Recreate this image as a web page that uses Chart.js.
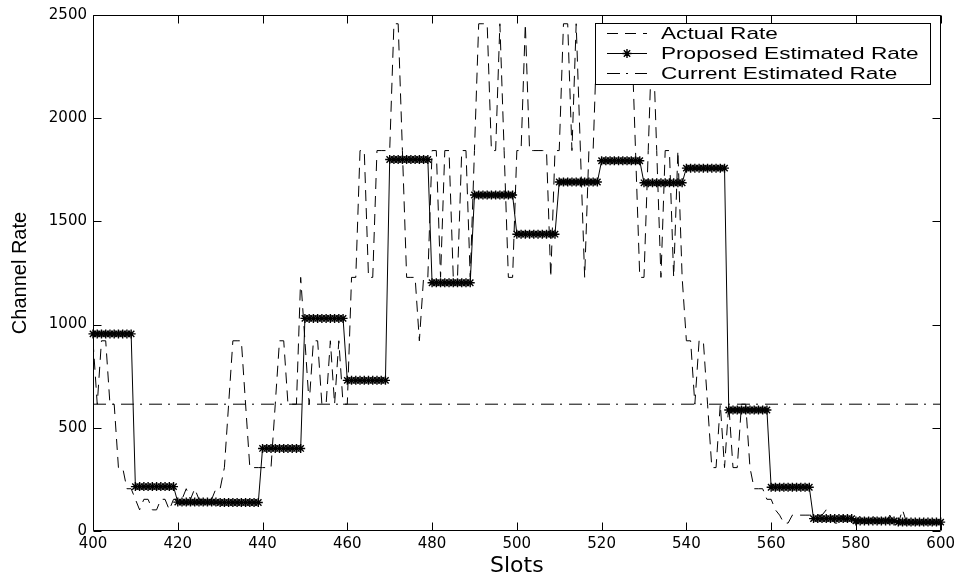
<!DOCTYPE html>
<html lang="en">
<head>
<meta charset="UTF-8">
<title>Channel Rate vs Slots</title>
<script src="https://cdn.jsdelivr.net/npm/chart.js"></script>
<style>
  html, body { margin: 0; padding: 0; background: #fff; }
  #wrap { width: 959px; height: 576px; }
</style>
</head>
<body>
<div id="wrap"><canvas id="rateChart" width="959" height="576"></canvas></div>
<script>
// Slot numbers run from firstSlot, one value per slot
const firstSlot = 400;
const xTickValues = [400, 420, 440, 460, 480, 500, 520, 540, 560, 580, 600];
const yTickValues = [0, 500, 1000, 1500, 2000, 2500];

// Actual channel rate per slot (400..600)
const actualRate = [
  921.6, 614.4, 921.6, 921.6, 614.4, 614.4, 307.2, 307.2, 204.8, 204.8,      // 400
  153.6, 102.4, 153.6, 153.6, 102.4, 102.4, 153.6, 153.6, 102.4, 153.6,      // 410
  153.6, 153.6, 204.8, 153.6, 204.8, 153.6, 153.6, 153.6, 153.6, 204.8,      // 420
  204.8, 307.2, 614.4, 921.6, 921.6, 921.6, 614.4, 307.2, 307.2, 307.2,      // 430
  307.2, 307.2, 307.2, 614.4, 921.6, 921.6, 614.4, 614.4, 614.4, 1228.8,     // 440
  921.6, 614.4, 921.6, 921.6, 614.4, 614.4, 921.6, 614.4, 921.6, 614.4,      // 450
  614.4, 1228.8, 1228.8, 1843.2, 1843.2, 1228.8, 1228.8, 1843.2, 1843.2, 1843.2, // 460
  1843.2, 2457.6, 2457.6, 1843.2, 1228.8, 1228.8, 1228.8, 921.6, 1228.8, 1228.8, // 470
  1843.2, 1843.2, 1228.8, 1843.2, 1843.2, 1228.8, 1228.8, 1843.2, 1843.2, 1228.8, // 480
  1843.2, 2457.6, 2457.6, 2457.6, 1843.2, 1843.2, 2457.6, 1843.2, 1228.8, 1228.8, // 490
  1843.2, 1843.2, 2457.6, 1843.2, 1843.2, 1843.2, 1843.2, 1843.2, 1228.8, 1843.2, // 500
  1843.2, 2457.6, 2457.6, 1843.2, 2457.6, 1843.2, 1228.8, 1843.2, 1843.2, 2457.6, // 510
  2457.6, 2457.6, 2457.6, 2457.6, 2457.6, 2457.6, 2457.6, 2457.6, 1843.2, 1228.8, // 520
  1228.8, 1843.2, 2457.6, 1843.2, 1228.8, 1843.2, 1843.2, 1228.8, 1843.2, 1228.8, // 530
  921.6, 921.6, 614.4, 921.6, 921.6, 614.4, 307.2, 307.2, 614.4, 307.2,      // 540
  614.4, 307.2, 307.2, 614.4, 614.4, 307.2, 204.8, 204.8, 204.8, 153.6,      // 550
  153.6, 102.4, 76.8, 38.4, 38.4, 76.8, 76.8, 76.8, 76.8, 76.8,              // 560
  76.8, 76.8, 76.8, 102.4, 76.8, 38.4, 38.4, 76.8, 38.4, 38.4,               // 570
  38.4, 76.8, 38.4, 38.4, 76.8, 38.4, 38.4, 38.4, 76.8, 38.4,                // 580
  38.4, 102.4, 38.4, 38.4, 38.4, 38.4, 38.4, 38.4, 38.4, 38.4,               // 590
  38.4                                                                      // 600
];

// Proposed estimated rate per slot (held for 10 slots at a time)
const proposedRate = [
  955, 955, 955, 955, 955, 955, 955, 955, 955, 955,
  215, 215, 215, 215, 215, 215, 215, 215, 215, 215,
  140, 140, 140, 140, 140, 140, 140, 140, 140, 140,
  138, 138, 138, 138, 138, 138, 138, 138, 138, 138,
  400, 400, 400, 400, 400, 400, 400, 400, 400, 400,
  1030, 1030, 1030, 1030, 1030, 1030, 1030, 1030, 1030, 1030,
  730, 730, 730, 730, 730, 730, 730, 730, 730, 730,
  1800, 1800, 1800, 1800, 1800, 1800, 1800, 1800, 1800, 1800,
  1203, 1203, 1203, 1203, 1203, 1203, 1203, 1203, 1203, 1203,
  1628, 1628, 1628, 1628, 1628, 1628, 1628, 1628, 1628, 1628,
  1438, 1438, 1438, 1438, 1438, 1438, 1438, 1438, 1438, 1438,
  1691, 1691, 1691, 1691, 1691, 1691, 1691, 1691, 1691, 1691,
  1794, 1794, 1794, 1794, 1794, 1794, 1794, 1794, 1794, 1794,
  1687, 1687, 1687, 1687, 1687, 1687, 1687, 1687, 1687, 1687,
  1758, 1758, 1758, 1758, 1758, 1758, 1758, 1758, 1758, 1758,
  586, 586, 586, 586, 586, 586, 586, 586, 586, 586,
  212, 212, 212, 212, 212, 212, 212, 212, 212, 212,
  60, 60, 60, 60, 60, 60, 60, 60, 60, 60,
  49, 49, 49, 49, 49, 49, 49, 49, 49, 49,
  43, 43, 43, 43, 43, 43, 43, 43, 43, 43,
  43
];

// Current estimated rate: a flat line
const currentSlots = [400, 600];
const currentRate = [614.4, 614.4];

const seriesLabels = ['Actual Rate', 'Proposed Estimated Rate', 'Current Estimated Rate'];

const toPoints = vals => vals.map((v, i) => ({ x: firstSlot + i, y: v }));

// axes frame with inward ticks on all four sides
const axesBox = {
  id: 'axesBox',
  afterDatasetsDraw(chart) {
    const { ctx, chartArea: a, scales: { x, y } } = chart;
    const L = Math.round(a.left) + 0.5, R = Math.round(a.right) - 0.5;
    const T = Math.round(a.top) + 0.5, B = Math.round(a.bottom) - 0.5;
    const len = 8;
    ctx.save();
    ctx.strokeStyle = '#000';
    ctx.lineWidth = 1;
    ctx.beginPath();
    ctx.rect(L, T, R - L, B - T);
    x.ticks.forEach(t => {
      const px = Math.round(x.getPixelForValue(t.value)) + 0.5;
      ctx.moveTo(px, B); ctx.lineTo(px, B - len);
      ctx.moveTo(px, T); ctx.lineTo(px, T + len);
    });
    y.ticks.forEach(t => {
      const py = Math.round(y.getPixelForValue(t.value)) + 0.5;
      ctx.moveTo(L, py); ctx.lineTo(L + len, py);
      ctx.moveTo(R, py); ctx.lineTo(R - len, py);
    });
    ctx.stroke();
    ctx.restore();
  }
};

// boxed legend in the top right corner
const boxLegend = {
  id: 'boxLegend',
  afterDraw(chart) {
    const { ctx } = chart;
    const bx = 595.5, by = 23.5, bw = 335, bh = 61;
    const rows = [33.5, 53.5, 73.5];
    ctx.save();
    ctx.fillStyle = '#fff';
    ctx.fillRect(bx, by, bw, bh);
    ctx.strokeStyle = '#000';
    ctx.lineWidth = 1;
    ctx.setLineDash([]);
    ctx.strokeRect(bx, by, bw, bh);

    chart.data.datasets.forEach((ds, i) => {
      const yy = rows[i];
      ctx.lineWidth = 1;
      ctx.setLineDash(ds.borderDash || []);
      ctx.beginPath();
      ctx.moveTo(607, yy);
      ctx.lineTo(647, yy);
      ctx.stroke();
      ctx.setLineDash([]);
      if (ds.pointRadius > 0) {
        const r = ds.pointRadius, d = r * Math.SQRT1_2, cx = 627;
        ctx.lineWidth = ds.pointBorderWidth;
        ctx.beginPath();
        ctx.moveTo(cx - r, yy); ctx.lineTo(cx + r, yy);
        ctx.moveTo(cx, yy - r); ctx.lineTo(cx, yy + r);
        ctx.moveTo(cx - d, yy - d); ctx.lineTo(cx + d, yy + d);
        ctx.moveTo(cx - d, yy + d); ctx.lineTo(cx + d, yy - d);
        ctx.stroke();
      }
      ctx.save();
      ctx.translate(661, yy + 1);
      ctx.scale(1.33, 1);
      ctx.fillStyle = '#000';
      ctx.font = '17px "Liberation Sans", Arial, sans-serif';
      ctx.textBaseline = 'middle';
      ctx.fillText(ds.label, 0, 0);
      ctx.restore();
    });
    ctx.restore();
  }
};

const ctx = document.getElementById('rateChart').getContext('2d');
const chart = new Chart(ctx, {
  type: 'line',
  data: {
    datasets: [{
      label: seriesLabels[0],
      data: toPoints(actualRate),
      borderColor: '#000',
      borderWidth: 1,
      borderDash: [11, 7],
      pointRadius: 0,
      tension: 0,
      order: 2
    }, {
      label: seriesLabels[1],
      data: toPoints(proposedRate),
      borderColor: '#000',
      borderWidth: 1,
      pointStyle: 'star',
      pointRadius: 4.5,
      pointBorderWidth: 1.4,
      pointBorderColor: '#000',
      pointBackgroundColor: '#000',
      tension: 0,
      clip: false,
      order: 0
    }, {
      label: seriesLabels[2],
      data: currentSlots.map((s, i) => ({ x: s, y: currentRate[i] })),
      borderColor: '#000',
      borderWidth: 1,
      borderDash: [13, 6, 2, 7],
      pointRadius: 0,
      tension: 0,
      order: 1
    }]
  },
  options: {
    responsive: false,
    animation: false,
    devicePixelRatio: 1,
    layout: { autoPadding: false, padding: { top: 15, right: 18, left: 0, bottom: 0 } },
    plugins: { legend: { display: false }, tooltip: { enabled: false } },
    scales: {
      x: {
        type: 'linear',
        min: 400,
        max: 600,
        afterBuildTicks: s => { s.ticks = xTickValues.map(v => ({ value: v })); },
        afterFit: s => { s.height = 45; },
        grid: { display: false, drawTicks: false },
        border: { display: false },
        ticks: {
          color: '#000',
          padding: 4,
          maxRotation: 0,
          callback: v => String(v),
          font: { family: '"DejaVu Sans", sans-serif', size: 15 }
        },
        title: {
          display: true,
          text: 'Slots',
          color: '#000',
          padding: { top: 0, bottom: -3 },
          font: { family: '"DejaVu Sans", sans-serif', size: 22 }
        }
      },
      y: {
        min: 0,
        max: 2500,
        afterBuildTicks: s => { s.ticks = yTickValues.map(v => ({ value: v })); },
        afterFit: s => { s.width = 93; },
        grid: { display: false, drawTicks: false },
        border: { display: false },
        ticks: {
          color: '#000',
          padding: 6,
          callback: v => String(v),
          font: { family: '"DejaVu Sans", sans-serif', size: 15 }
        },
        title: {
          display: true,
          text: 'Channel Rate',
          color: '#000',
          padding: { top: 8, bottom: 0 },
          font: { family: '"Liberation Sans", Arial, sans-serif', size: 20 }
        }
      }
    }
  },
  plugins: [axesBox, boxLegend]
});
</script>
</body>
</html>
